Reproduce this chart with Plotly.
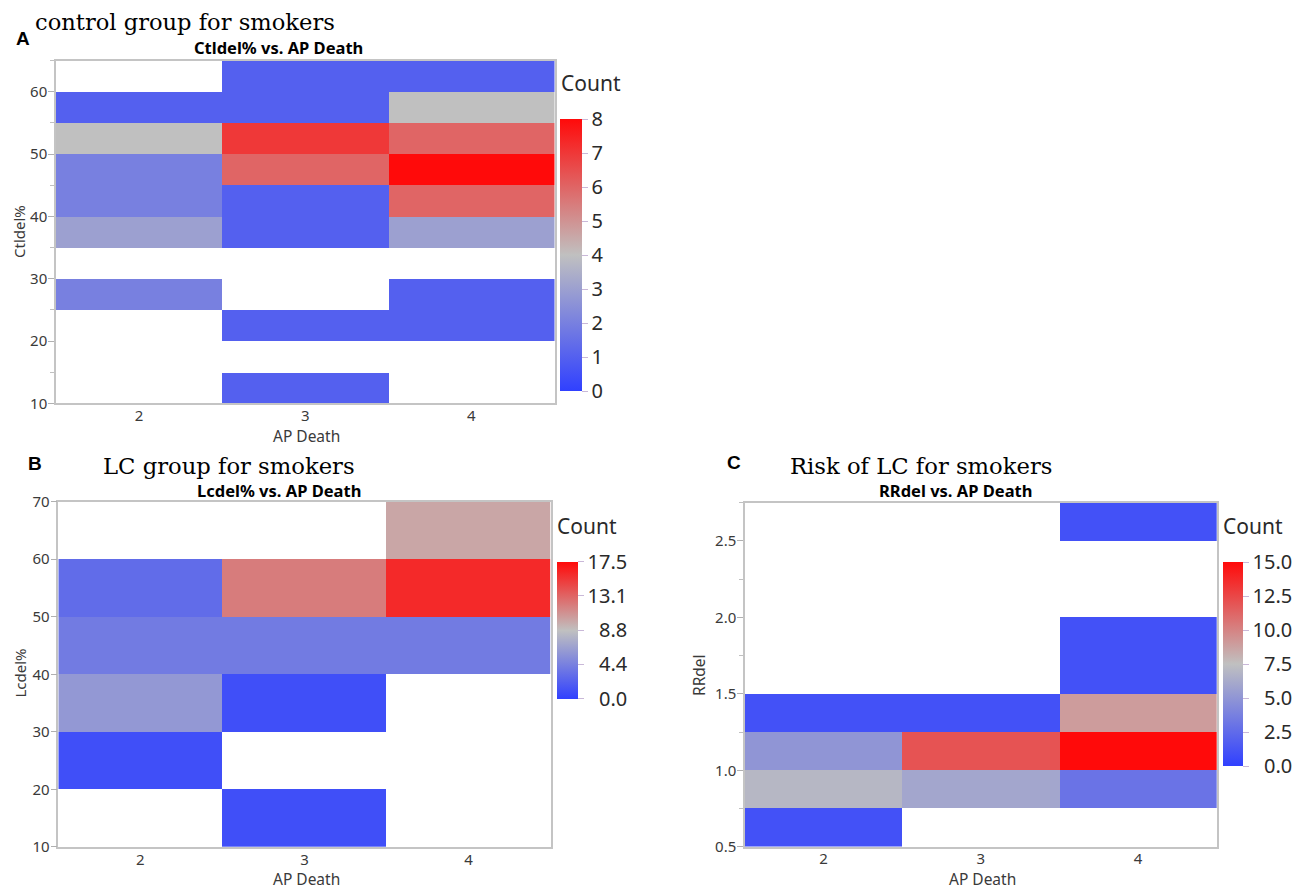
import plotly.graph_objects as go

W, H = 1309, 888
OFF = 8  # page body margin of the html wrapper

# ---------------- data ----------------
ap_death = [2, 3, 4]

# Panel A: Ctldel% bins (lower edges, width 5), counts per AP Death (2, 3, 4)
ctl_bin_low = [10, 15, 20, 25, 30, 35, 40, 45, 50, 55, 60]
ctl_bin_width = 5
ctl_counts = [
    [None, 1, None],
    [None, None, None],
    [None, 1, 1],
    [2, None, 1],
    [None, None, None],
    [3, 1, 3],
    [2, 1, 6],
    [2, 6, 8],
    [4, 7, 6],
    [1, 1, 4],
    [None, 1, 1],
]

# Panel B: Lcdel% bins (lower edges, width 10)
lc_bin_low = [10, 20, 30, 40, 50, 60]
lc_bin_width = 10
lc_counts = [
    [None, 1, None],
    [1, None, None],
    [6, 1, None],
    [4, 4, 4],
    [3, 12, 16],
    [None, None, 10],
]

# Panel C: RRdel bins (lower edges, width 0.25)
rr_bin_low = [0.5, 0.75, 1.0, 1.25, 1.5, 1.75, 2.0, 2.25, 2.5]
rr_bin_width = 0.25
rr_counts = [
    [1, None, None],
    [7, 6, 3],
    [5, 12, 15],
    [1, 1, 9],
    [None, None, 1],
    [None, None, 1],
    [None, None, None],
    [None, None, None],
    [None, None, 1],
]

cb_A_ticks = [0, 1, 2, 3, 4, 5, 6, 7, 8]
cb_B_ticks = [0.0, 4.375, 8.75, 13.125, 17.5]
cb_B_text = ["\u20070.0", "\u20074.4", "\u20078.8", "13.1", "17.5"]
cb_C_ticks = [0.0, 2.5, 5.0, 7.5, 10.0, 12.5, 15.0]
cb_C_text = ["\u20070.0", "\u20072.5", "\u20075.0", "\u20077.5", "10.0", "12.5", "15.0"]

# ---------------- helpers ----------------
def px(x):
    return (x - OFF) / W

def py(y):
    return 1 - (y - OFF) / H

scale = [[0.0, "#3040ff"], [0.5, "#c0c0c0"], [1.0, "#ff0a0a"]]
sans = "Noto Sans, Open Sans, sans-serif"
serif = "DejaVu Serif, Liberation Serif, serif"
arial = "Liberation Sans, Arial, sans-serif"
tick_font = dict(family=sans, size=15, color="#3a3a3a")
cb_font = dict(family=sans, size=20, color="#2a2a2a")

panels = [
    dict(counts=ctl_counts, low=ctl_bin_low, w=ctl_bin_width, zmax=8,
         box=(56, 554.5, 60.7, 403.3), cb=(560.3, 119.3, 272.4, 21.7),
         cbt=cb_A_ticks, cbtext=None, yr=[10, 65], ydt=10, ytick0=10, minor=5),
    dict(counts=lc_counts, low=lc_bin_low, w=lc_bin_width, zmax=17.5,
         box=(58.3, 550.7, 501.7, 846.9), cb=(557.3, 561.7, 136.6, 21.4),
         cbt=cb_B_ticks, cbtext=cb_B_text, yr=[10, 70], ydt=10, ytick0=10, minor=None),
    dict(counts=rr_counts, low=rr_bin_low, w=rr_bin_width, zmax=15,
         box=(745, 1216.7, 502.7, 846.7), cb=(1223.3, 562.3, 204.4, 20.0),
         cbt=cb_C_ticks, cbtext=cb_C_text, yr=[0.5, 2.75], ydt=0.5, ytick0=0.5, minor=0.25),
]

fig = go.Figure()
layout = {}
for i, p in enumerate(panels):
    n = "" if i == 0 else str(i + 1)
    centers = [lo + p["w"] / 2 for lo in p["low"]]
    cbx, cby, cblen, cbth = p["cb"]
    colorbar = dict(
        x=px(cbx), xanchor="left", y=py(cby), yanchor="top",
        len=cblen, lenmode="pixels", thickness=cbth, thicknessmode="pixels",
        xpad=0, ypad=0, outlinewidth=0,
        ticks="outside", ticklen=6, tickcolor="#c9b8d8", tickwidth=1,
        tickvals=p["cbt"], tickfont=cb_font,
    )
    if p["cbtext"]:
        colorbar["ticktext"] = p["cbtext"]
    fig.add_trace(go.Heatmap(
        x=ap_death, y=centers, z=p["counts"],
        zmin=0, zmax=p["zmax"], colorscale=scale,
        colorbar=colorbar, xaxis="x" + n, yaxis="y" + n,
        hoverongaps=False,
    ))
    x0, x1, y0, y1 = p["box"]
    layout["xaxis" + n] = dict(
        domain=[px(x0), px(x1)], anchor="y" + n, range=[1.5, 4.5],
        tickvals=ap_death, ticks="", showgrid=False, zeroline=False,
        showline=True, linecolor="#c4c4c4", linewidth=1.5, mirror=True,
        automargin=False, tickfont=tick_font, ticklabelstandoff=-2,
    )
    ya = dict(
        domain=[py(y1), py(y0)], anchor="x" + n, range=p["yr"],
        tick0=p["ytick0"], dtick=p["ydt"], ticks="outside", ticklen=6,
        tickcolor="#b0b0b0", showgrid=False, zeroline=False,
        showline=True, linecolor="#c4c4c4", linewidth=1.5, mirror=True,
        automargin=False, tickfont=tick_font, ticklabelstandoff=-2,
    )
    if p["ydt"] == 0.5:
        ya["tickformat"] = ".1f"
    if p["minor"]:
        ya["minor"] = dict(dtick=p["minor"], tick0=p["ytick0"], ticks="outside",
                           ticklen=4, tickcolor="#c0c0c0")
    layout["yaxis" + n] = ya

ann = []
def add(text, x, y, size, family, color="#000", bold=False, angle=0, xanchor="center"):
    ann.append(dict(text=("<b>%s</b>" % text) if bold else text, x=px(x), y=py(y),
                    xref="paper", yref="paper", showarrow=False, xanchor=xanchor,
                    yanchor="middle", textangle=angle,
                    font=dict(family=family, size=size, color=color)))

# panel letters and headings
add("A", 14, 38.5, 19, arial, bold=True, xanchor="left")
add("control group for smokers", 33, 22, 22.6, serif, xanchor="left")
add("B", 25.5, 463.5, 19, arial, bold=True, xanchor="left")
add("LC group for smokers", 101, 466, 22.7, serif, xanchor="left")
add("C", 725, 462.5, 19, arial, bold=True, xanchor="left")
add("Risk of LC for smokers", 788, 466, 22.7, serif, xanchor="left")

# chart titles
add("Ctldel% vs. AP Death", 278, 47, 16.5, sans, bold=True)
add("Lcdel% vs. AP Death", 279, 490, 16.5, sans, bold=True)
add("RRdel vs. AP Death", 955, 490, 16.5, sans, bold=True)

# axis titles
add("AP Death", 306, 436, 15.5, sans, color="#3a3a3a")
add("AP Death", 306, 878.5, 15.5, sans, color="#3a3a3a")
add("AP Death", 983, 878.5, 15.5, sans, color="#3a3a3a")
add("Ctldel%", 19, 232, 15, sans, color="#3a3a3a", angle=-90)
add("Lcdel%", 19, 673.5, 15, sans, color="#3a3a3a", angle=-90)
add("RRdel", 699, 675, 15.5, sans, color="#3a3a3a", angle=-90)

# colorbar titles
add("Count", 559, 83, 21, sans, color="#2a2a2a", xanchor="left")
add("Count", 555, 526, 21, sans, color="#2a2a2a", xanchor="left")
add("Count", 1221, 526, 21, sans, color="#2a2a2a", xanchor="left")

fig.update_layout(
    width=W, height=H, margin=dict(l=0, r=0, t=0, b=0),
    paper_bgcolor="white", plot_bgcolor="white",
    annotations=ann, **layout,
)

fig.write_html("out.html")
